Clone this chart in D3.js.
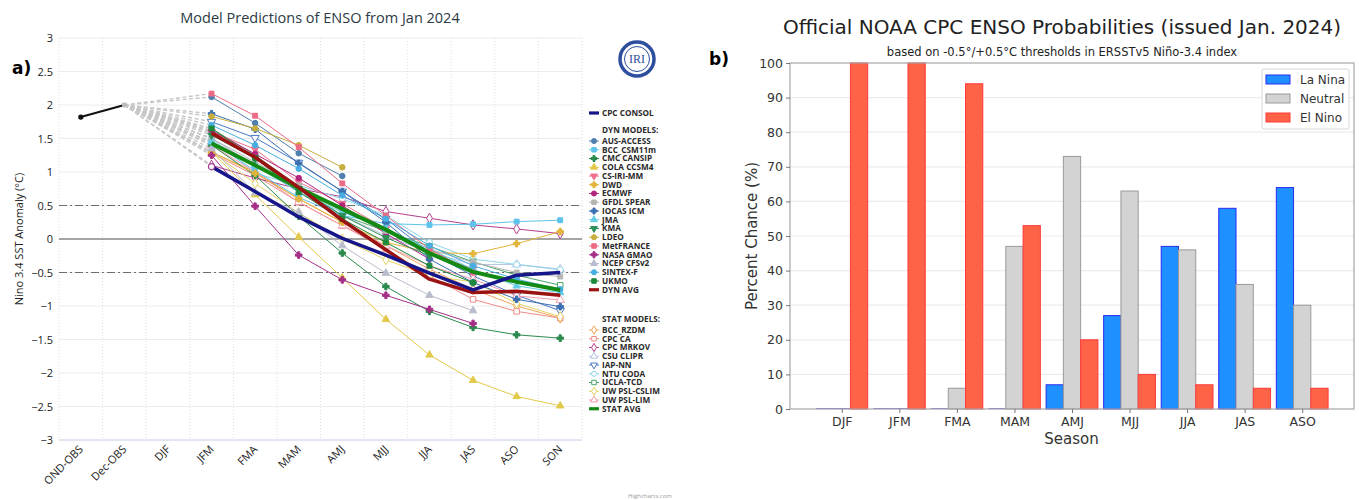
<!DOCTYPE html>
<html>
<head>
<meta charset="utf-8">
<script src="https://cdn.jsdelivr.net/npm/d3@7"></script>
<style>
  body { margin: 0; background: #fff; }
  svg { display: block; }
</style>
</head>
<body>
<div class="canvas"></div>
<script>
// ---------- data: left panel (IRI plume) ----------
const plumeSeasons = ['OND-OBS', 'Dec-OBS', 'DJF', 'JFM', 'FMA', 'MAM', 'AMJ', 'MJJ', 'JJA', 'JAS', 'ASO', 'SON']
const fcstSeasons = ['JFM', 'FMA', 'MAM', 'AMJ', 'MJJ', 'JJA', 'JAS', 'ASO', 'SON']
const obsSeasons = ['OND-OBS', 'Dec-OBS']
const obsValues = [1.82, 2.0]
const yTicksLeft = [3, 2.5, 2, 1.5, 1, 0.5, 0, -0.5, -1, -1.5, -2, -2.5, -3]

const dynNames = ['AUS-ACCESS', 'BCC_CSM11m', 'CMC CANSIP', 'COLA CCSM4', 'CS-IRI-MM', 'DWD', 'ECMWF',
  'GFDL SPEAR', 'IOCAS ICM', 'JMA', 'KMA', 'LDEO', 'MetFRANCE', 'NASA GMAO', 'NCEP CFSv2', 'SINTEX-F', 'UKMO']
const dynValues = [
  [2.12, 1.73, 1.28, 0.94, null, null, null, null, null],
  [1.45, 1.02, 0.62, 0.35, 0.23, 0.21, 0.22, 0.26, 0.28],
  [1.40, 0.95, 0.34, -0.21, -0.71, -1.08, -1.32, -1.43, -1.48],
  [1.30, 0.66, 0.03, -0.58, -1.20, -1.73, -2.11, -2.35, -2.49],
  [1.60, 1.34, 0.85, 0.53, 0.15, -0.20, -0.45, null, null],
  [1.30, 0.98, 0.60, 0.25, -0.05, -0.20, -0.22, -0.07, 0.11],
  [1.62, 1.27, 0.91, 0.50, 0.08, -0.30, null, null, null],
  [1.50, 1.15, 0.80, 0.42, 0.12, -0.15, -0.35, -0.50, -0.56],
  [1.87, 1.64, 1.13, 0.71, 0.25, -0.30, -0.65, -0.90, -1.01],
  [1.45, 1.10, 0.70, 0.40, 0.15, -0.15, -0.45, -0.70, -0.80],
  [1.55, 1.20, 0.75, 0.35, 0.02, -0.25, null, null, null],
  [1.83, 1.65, 1.40, 1.07, null, null, null, null, null],
  [2.17, 1.84, 1.37, 0.83, 0.35, -0.15, -0.50, null, null],
  [1.25, 0.49, -0.24, -0.61, -0.84, -1.05, -1.26, null, null],
  [1.35, 0.69, 0.40, -0.10, -0.51, -0.84, -1.07, null, null],
  [1.70, 1.40, 1.05, 0.65, 0.30, -0.10, -0.40, -0.60, -0.75],
  [1.65, 1.21, 0.70, 0.30, -0.05, -0.40, -0.65, null, null]
]

const statNames = ['BCC_RZDM', 'CPC CA', 'CPC MRKOV', 'CSU CLIPR', 'IAP-NN', 'NTU CODA', 'UCLA-TCD', 'UW PSL-CSLIM', 'UW PSL-LIM']
const statValues = [
  [1.30, 1.00, 0.60, 0.25, -0.10, -0.45, -0.75, -1.00, -1.18],
  [1.28, 0.95, 0.55, 0.20, -0.15, -0.55, -0.90, -1.08, -1.18],
  [1.10, 0.91, 0.75, 0.63, 0.41, 0.31, 0.21, 0.15, 0.08],
  [1.50, 1.10, 0.70, 0.35, 0.05, -0.20, -0.38, -0.38, -0.45],
  [1.75, 1.51, 1.14, 0.71, 0.30, -0.20, -0.55, -0.84, -1.07],
  [1.50, 0.98, 0.80, 0.60, 0.35, -0.05, -0.30, -0.38, -0.46],
  [1.65, 1.25, 0.78, 0.35, 0.12, -0.11, -0.34, -0.54, -0.69],
  [1.30, 0.83, 0.39, 0.00, -0.31, -0.55, -0.64, -0.96, -1.16],
  [1.40, 1.00, 0.55, 0.20, -0.10, -0.40, -0.60, -0.85, -0.91]
]

const cpcConsol = [1.08, 0.71, 0.33, 0.01, -0.24, -0.51, -0.76, -0.54, -0.50]
const dynAvg = [1.58, 1.22, 0.77, 0.28, -0.16, -0.60, -0.80, -0.78, -0.84]
const statAvg = [1.43, 1.10, 0.76, 0.45, 0.14, -0.21, -0.49, -0.64, -0.76]

// ---------- data: right panel (CPC probabilities) ----------
const probSeasons = ['DJF', 'JFM', 'FMA', 'MAM', 'AMJ', 'MJJ', 'JJA', 'JAS', 'ASO']
const laNina = [0, 0, 0, 0, 7, 27, 47, 58, 64]
const neutral = [0, 0, 6, 47, 73, 63, 46, 36, 30]
const elNino = [100, 100, 94, 53, 20, 10, 7, 6, 6]
const probLabels = ['La Nina', 'Neutral', 'El Nino']

// ---------- styles ----------
const dynColors = ['#4f7fae', '#5ec3ea', '#2b8a4e', '#e3c94a', '#f0708e', '#e2b43a', '#b4247c',
  '#b5b5b5', '#3b6fb0', '#66cde6', '#2f8f5a', '#c9ad3c', '#ec6a83', '#a52f87', '#b9bccd', '#46aee0', '#1c8a3c']
const dynSymbols = ['circle', 'square', 'cross', 'triangle', 'tridown', 'cross', 'circle',
  'square', 'cross', 'triangle', 'tridown', 'circle', 'square', 'cross', 'triangle', 'circle', 'square']
const statColors = ['#f2a55a', '#f08a8a', '#b4408e', '#b8c4e4', '#4a78c4', '#8fd4ea', '#4aa66a', '#e6d266', '#f39aac']
const statSymbols = ['diamond', 'square', 'diamond', 'triangle', 'tridown', 'circle', 'square', 'diamond', 'triangle']

const W = 1359, H = 500
const svg = d3.select('.canvas').append('svg').attr('width', W).attr('height', H)

// ================= LEFT PANEL =================
const L = { left: 59, right: 582, top: 38, bottom: 440 }
const leftFont = '"Open Sans", "DejaVu Sans", sans-serif'

const xL = d3.scalePoint().domain(plumeSeasons).range([L.left, L.right]).padding(0.5)
const yL = d3.scaleLinear().domain([-3, 3]).range([L.bottom, L.top])
const step = xL.step()

const left = svg.append('g')

// grid
left.selectAll('.hgrid').data(yTicksLeft).enter().append('line')
  .attr('x1', L.left).attr('x2', L.right)
  .attr('y1', d => yL(d)).attr('y2', d => yL(d))
  .attr('stroke', '#ececec').attr('stroke-width', 1)

left.selectAll('.vgrid').data(d3.range(plumeSeasons.length + 1)).enter().append('line')
  .attr('x1', i => L.left + i * step).attr('x2', i => L.left + i * step)
  .attr('y1', L.top).attr('y2', L.bottom)
  .attr('stroke', '#dedede').attr('stroke-dasharray', '1,2')

// axis line bottom
left.append('line').attr('x1', L.left).attr('x2', L.right)
  .attr('y1', yL(-3)).attr('y2', yL(-3)).attr('stroke', '#ccd6eb')

// reference lines
left.append('line').attr('x1', L.left).attr('x2', L.right)
  .attr('y1', yL(0)).attr('y2', yL(0)).attr('stroke', '#8a8a8a').attr('stroke-width', 1.5)
;[0.5, -0.5].forEach(v => {
  left.append('line').attr('x1', L.left).attr('x2', L.right)
    .attr('y1', yL(v)).attr('y2', yL(v))
    .attr('stroke', '#6e6e6e').attr('stroke-width', 1).attr('stroke-dasharray', '8,3,2,3')
})

// y tick labels
left.selectAll('.ylab').data(yTicksLeft).enter().append('text')
  .attr('x', 53).attr('y', d => yL(d) + 4)
  .attr('text-anchor', 'end').attr('font-family', leftFont).attr('font-size', 11)
  .attr('fill', '#222').text(d => d < 0 ? '\u2212' + Math.abs(d) : d)

// x tick labels (rotated)
left.selectAll('.xlab').data(plumeSeasons).enter().append('text')
  .attr('transform', d => `translate(${xL(d) + 3}, 450) rotate(-45)`)
  .attr('text-anchor', 'end').attr('font-family', leftFont).attr('font-size', 11)
  .attr('fill', '#222').text(d => d)

// axis title
left.append('text')
  .attr('transform', `translate(23, ${yL(0)}) rotate(-90)`)
  .attr('text-anchor', 'middle').attr('font-family', leftFont).attr('font-size', 11)
  .attr('fill', '#222').text('Nino 3.4 SST Anomaly (°C)')

// chart title
left.append('text').attr('x', 320).attr('y', 23)
  .attr('text-anchor', 'middle').attr('font-family', leftFont).attr('font-size', 14.5)
  .attr('fill', '#2b3a44').text('Model Predictions of ENSO from Jan 2024')

left.append('text').attr('x', 12).attr('y', 74)
  .attr('font-family', '"DejaVu Sans", sans-serif').attr('font-weight', 'bold').attr('font-size', 17)
  .attr('fill', '#000').text('a)')

left.append('text').attr('x', 650).attr('y', 498).attr('text-anchor', 'middle')
  .attr('font-family', leftFont).attr('font-size', 6).attr('fill', '#999').text('Highcharts.com')

// symbol helper
const symbolPath = (name, size) => {
  const map = {
    circle: d3.symbolCircle, square: d3.symbolSquare, diamond: d3.symbolDiamond,
    triangle: d3.symbolTriangle, tridown: d3.symbolTriangle, cross: d3.symbolCross
  }
  return d3.symbol().type(map[name]).size(size)()
}

// dashed connector from last obs to first forecast
const allJfm = dynValues.map(v => v[0]).concat(statValues.map(v => v[0]), [cpcConsol[0], dynAvg[0], statAvg[0]])
left.selectAll('.conn').data(allJfm).enter().append('line')
  .attr('x1', xL('Dec-OBS')).attr('y1', yL(obsValues[1]))
  .attr('x2', xL('JFM')).attr('y2', d => yL(d))
  .attr('stroke', '#c8c8c8').attr('stroke-width', 1.4).attr('stroke-dasharray', '4,2.5')

const line = d3.line()
  .defined(d => d.v !== null)
  .x(d => xL(d.s)).y(d => yL(d.v))

const drawModel = (vals, color, symbol, filled, width) => {
  const pts = vals.map((v, i) => ({ s: fcstSeasons[i], v }))
  left.append('path').datum(pts)
    .attr('fill', 'none').attr('stroke', color).attr('stroke-width', width).attr('d', line)
  left.selectAll(null).data(pts.filter(p => p.v !== null)).enter().append('path')
    .attr('d', symbolPath(symbol, filled ? 24 : 30))
    .attr('transform', p => `translate(${xL(p.s)}, ${yL(p.v)})` + (symbol === 'tridown' ? ' rotate(180)' : ''))
    .attr('fill', filled ? color : '#fff').attr('stroke', color).attr('stroke-width', 1)
}

statValues.forEach((vals, i) => drawModel(vals, statColors[i], statSymbols[i], false, 1))
dynValues.forEach((vals, i) => drawModel(vals, dynColors[i], dynSymbols[i], true, 1))

// averages
const drawAvg = (vals, color, width) => {
  const pts = vals.map((v, i) => ({ s: fcstSeasons[i], v }))
  left.append('path').datum(pts)
    .attr('fill', 'none').attr('stroke', color).attr('stroke-width', width)
    .attr('stroke-linejoin', 'round').attr('d', line)
}
drawAvg(statAvg, '#138a13', 4)
drawAvg(dynAvg, '#9a1212', 3.5)
drawAvg(cpcConsol, '#16168a', 3.5)
left.append('path').attr('d', symbolPath('circle', 30))
  .attr('transform', `translate(${xL('JFM')}, ${yL(cpcConsol[0])})`)
  .attr('fill', '#fff').attr('stroke', '#a04090').attr('stroke-width', 1.2)

// observations
const obsPts = obsSeasons.map((s, i) => ({ s, v: obsValues[i] }))
left.append('path').datum(obsPts).attr('fill', 'none').attr('stroke', '#111').attr('stroke-width', 2).attr('d', line)
left.append('circle').attr('cx', xL(obsSeasons[0])).attr('cy', yL(obsValues[0])).attr('r', 2.6).attr('fill', '#111')
left.append('path').attr('d', symbolPath('square', 22))
  .attr('transform', `translate(${xL(obsSeasons[1])}, ${yL(obsValues[1])})`).attr('fill', '#bbb')

// IRI logo
const logo = left.append('g').attr('transform', 'translate(637, 59)')
logo.append('circle').attr('r', 17).attr('fill', '#fff').attr('stroke', '#2d4f9e').attr('stroke-width', 3.5)
logo.append('circle').attr('r', 12.5).attr('fill', '#fff').attr('stroke', '#2d4f9e').attr('stroke-width', 1)
logo.append('text').attr('y', 4).attr('text-anchor', 'middle')
  .attr('font-family', '"Liberation Serif", serif').attr('font-size', 12).attr('fill', '#2d4f9e').text('IRI')

// legend
const legX = 589, legStep = 8.75
const legFont = (g) => g.attr('font-family', leftFont).attr('font-size', 8.2).attr('font-weight', 'bold').attr('fill', '#2a2a2a')
const legItem = (y, label, color, symbol, filled, thick) => {
  const g = left.append('g').attr('transform', `translate(${legX}, ${y})`)
  if (thick) {
    g.append('line').attr('x1', 0).attr('x2', 10).attr('stroke', color).attr('stroke-width', 3.2)
  } else {
    g.append('line').attr('x1', 0).attr('x2', 10).attr('stroke', color).attr('stroke-width', 1)
    g.append('path').attr('d', symbolPath(symbol, 20))
      .attr('transform', 'translate(5,0)' + (symbol === 'tridown' ? ' rotate(180)' : ''))
      .attr('fill', filled ? color : '#fff').attr('stroke', color)
  }
  g.append('text').attr('x', 13).attr('y', 2.9).call(legFont).text(label)
}
legItem(113, 'CPC CONSOL', '#16168a', null, true, true)
left.append('text').attr('x', legX + 13).attr('y', 133).call(legFont).text('DYN MODELS:')
dynNames.forEach((n, i) => legItem(141 + i * legStep, n, dynColors[i], dynSymbols[i], true, false))
legItem(141 + dynNames.length * legStep, 'DYN AVG', '#9a1212', null, true, true)
left.append('text').attr('x', legX + 13).attr('y', 322).call(legFont).text('STAT MODELS:')
statNames.forEach((n, i) => legItem(330 + i * legStep, n, statColors[i], statSymbols[i], false, false))
legItem(330 + statNames.length * legStep, 'STAT AVG', '#138a13', null, true, true)

// ================= RIGHT PANEL =================
const R = { left: 790, right: 1354, top: 63, bottom: 409 }
const rightFont = '"DejaVu Sans", sans-serif'
const xR = d3.scaleLinear().domain([-0.9, probSeasons.length - 0.1]).range([R.left, R.right])
const yR = d3.scaleLinear().domain([0, 100]).range([R.bottom, R.top])
const barW = xR(0.3) - xR(0)

const right = svg.append('g')

right.append('text').attr('x', 1062).attr('y', 34).attr('text-anchor', 'middle')
  .attr('font-family', rightFont).attr('font-size', 20).attr('fill', '#222')
  .text('Official NOAA CPC ENSO Probabilities (issued Jan. 2024)')
right.append('text').attr('x', 1062).attr('y', 56).attr('text-anchor', 'middle')
  .attr('font-family', rightFont).attr('font-size', 11.5).attr('fill', '#222')
  .text('based on -0.5°/+0.5°C thresholds in ERSSTv5 Niño-3.4 index')
right.append('text').attr('x', 709).attr('y', 65)
  .attr('font-family', rightFont).attr('font-weight', 'bold').attr('font-size', 17).attr('fill', '#000').text('b)')

// grid
right.selectAll('.rgrid').data(d3.range(10, 100, 10)).enter().append('line')
  .attr('x1', R.left).attr('x2', R.right).attr('y1', d => yR(d)).attr('y2', d => yR(d))
  .attr('stroke', '#ececec').attr('stroke-width', 1.2)

// bars
const groups = [
  { vals: laNina, off: -0.3, fill: '#1e90ff', edge: '#2a2af0' },
  { vals: neutral, off: 0, fill: '#d3d3d3', edge: '#9a9a9a' },
  { vals: elNino, off: 0.3, fill: '#ff6347', edge: '#ff3a3a' }
]
groups.forEach(g => {
  right.selectAll(null).data(g.vals).enter().append('rect')
    .attr('x', (d, i) => xR(i + g.off) - barW / 2)
    .attr('y', d => yR(d))
    .attr('width', barW)
    .attr('height', d => yR(0) - yR(d))
    .attr('fill', g.fill).attr('stroke', g.edge).attr('stroke-width', 1)
  // zero-height bars still show their edge as a thin line
  right.selectAll(null).data(g.vals.map((d, i) => ({ d, i })).filter(p => p.d === 0)).enter().append('line')
    .attr('x1', p => xR(p.i + g.off) - barW / 2).attr('x2', p => xR(p.i + g.off) + barW / 2)
    .attr('y1', yR(0) - 0.5).attr('y2', yR(0) - 0.5)
    .attr('stroke', '#7a7af0').attr('stroke-width', 1)
})

// frame
right.append('rect').attr('x', R.left).attr('y', R.top)
  .attr('width', R.right - R.left).attr('height', R.bottom - R.top)
  .attr('fill', 'none').attr('stroke', '#a6a6a6').attr('stroke-width', 1.2)

// axes
const yAxisR = right.append('g').attr('transform', `translate(${R.left},0)`)
  .call(d3.axisLeft(yR).tickValues(d3.range(0, 101, 10)).tickSize(4).tickPadding(3))
const xAxisR = right.append('g').attr('transform', `translate(0,${R.bottom})`)
  .call(d3.axisBottom(xR).tickValues(d3.range(probSeasons.length)).tickFormat(i => probSeasons[i]).tickSize(4).tickPadding(4))
;[yAxisR, xAxisR].forEach(a => {
  a.select('.domain').remove()
  a.selectAll('line').attr('stroke', '#777')
  a.selectAll('text').attr('font-family', rightFont).attr('font-size', 12.5).attr('fill', '#333')
})

right.append('text').attr('transform', `translate(757, ${(R.top + R.bottom) / 2}) rotate(-90)`)
  .attr('text-anchor', 'middle').attr('font-family', rightFont).attr('font-size', 15).attr('fill', '#333')
  .text('Percent Chance (%)')
right.append('text').attr('x', xR(4) - 0.5).attr('y', 444).attr('text-anchor', 'middle')
  .attr('font-family', rightFont).attr('font-size', 15).attr('fill', '#333').text('Season')

// legend
const lg = right.append('g').attr('transform', 'translate(1262, 69)')
lg.append('rect').attr('width', 87).attr('height', 60).attr('rx', 2)
  .attr('fill', '#fff').attr('stroke', '#d8d8d8')
probLabels.forEach((lab, i) => {
  lg.append('rect').attr('x', 4).attr('y', 6 + i * 19).attr('width', 24).attr('height', 9)
    .attr('fill', groups[i].fill).attr('stroke', groups[i].edge)
  lg.append('text').attr('x', 38).attr('y', 15 + i * 19)
    .attr('font-family', rightFont).attr('font-size', 12).attr('fill', '#333').text(lab)
})
</script>
</body>
</html>
